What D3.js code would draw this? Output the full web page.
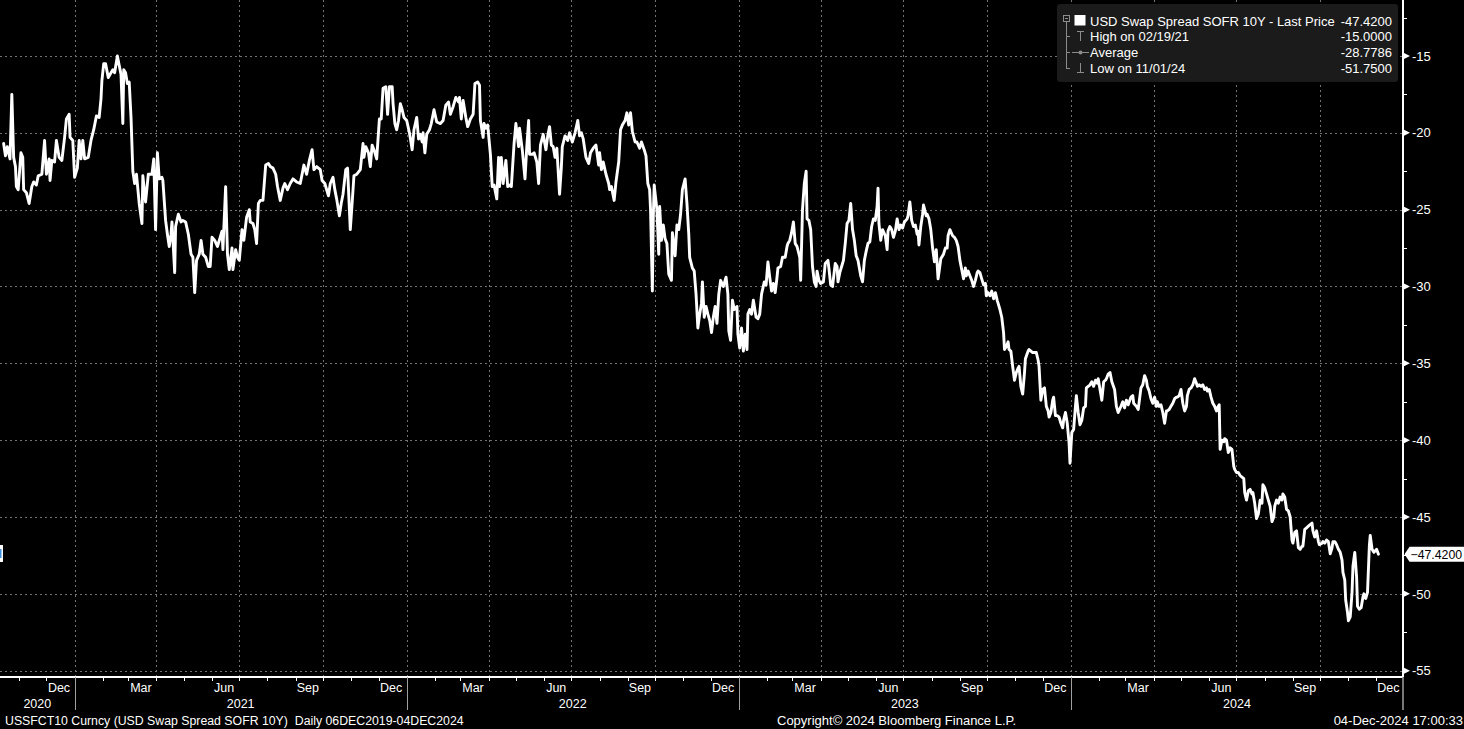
<!DOCTYPE html>
<html><head><meta charset="utf-8">
<script src="https://cdn.jsdelivr.net/npm/d3@7"></script>
<style>html,body{margin:0;padding:0;background:#000;overflow:hidden}svg{display:block}</style>
</head><body>
<svg id="chart" width="1464" height="729"></svg>
<script>
// ---------- DATA ----------
const obs2020 = [["2020-10-15",-20.7],["2020-10-17",-21.5],["2020-10-19",-20.9],["2020-10-22",-21.7],["2020-10-24",-17.5],["2020-10-26",-21.6],["2020-10-28",-22.2],["2020-10-29",-23.5],["2020-10-31",-23.7],["2020-11-03",-21.3],["2020-11-05",-21.6],["2020-11-06",-23.7],["2020-11-09",-23.9],["2020-11-12",-24.6],["2020-11-15",-23.5],["2020-11-17",-23.2],["2020-11-20",-23.4],["2020-11-22",-22.8],["2020-11-26",-22.7],["2020-11-29",-20.5],["2020-12-01",-22.7],["2020-12-04",-21.7],["2020-12-05",-23.1],["2020-12-07",-21.8],["2020-12-10",-21.9],["2020-12-12",-20.5],["2020-12-15",-21.6],["2020-12-18",-21.8],["2020-12-21",-20.3],["2020-12-23",-19.1],["2020-12-26",-18.8],["2020-12-27",-20.3],["2020-12-30",-20.5]];
const obs2021 = [["2021-01-01",-22.9],["2021-01-04",-22.3],["2021-01-06",-20.5],["2021-01-08",-21.7],["2021-01-10",-20.5],["2021-01-12",-21.7],["2021-01-16",-21.6],["2021-01-19",-20.5],["2021-01-22",-19.8],["2021-01-25",-18.9],["2021-01-28",-19.0],["2021-01-30",-17.8],["2021-01-31",-16.6],["2021-02-02",-15.5],["2021-02-04",-15.5],["2021-02-07",-16.4],["2021-02-10",-16.1],["2021-02-12",-15.9],["2021-02-14",-16.1],["2021-02-17",-15.0],["2021-02-19",-15.6],["2021-02-21",-16.2],["2021-02-23",-19.4],["2021-02-24",-15.9],["2021-02-26",-16.1],["2021-02-28",-16.8],["2021-03-02",-16.7],["2021-03-04",-19.0],["2021-03-06",-22.5],["2021-03-08",-23.3],["2021-03-10",-22.7],["2021-03-13",-24.6],["2021-03-16",-25.9],["2021-03-17",-22.8],["2021-03-20",-24.5],["2021-03-23",-22.7],["2021-03-27",-22.7],["2021-03-29",-21.7],["2021-03-31",-26.3],["2021-04-02",-21.3],["2021-04-04",-23.0],["2021-04-07",-22.9],["2021-04-08",-23.1],["2021-04-11",-25.7],["2021-04-13",-26.6],["2021-04-15",-27.4],["2021-04-17",-26.6],["2021-04-18",-25.8],["2021-04-21",-29.1],["2021-04-22",-26.1],["2021-04-25",-25.3],["2021-04-28",-25.8],["2021-04-30",-25.7],["2021-05-03",-25.8],["2021-05-06",-26.6],["2021-05-09",-27.9],["2021-05-11",-28.1],["2021-05-13",-30.4],["2021-05-15",-28.3],["2021-05-18",-27.9],["2021-05-20",-27.0],["2021-05-22",-27.9],["2021-05-25",-28.1],["2021-05-28",-28.7],["2021-05-30",-28.7],["2021-06-01",-26.8],["2021-06-04",-27.0],["2021-06-07",-27.4],["2021-06-10",-26.8],["2021-06-12",-26.4],["2021-06-13",-27.6],["2021-06-16",-23.5],["2021-06-18",-27.9],["2021-06-20",-28.9],["2021-06-23",-27.5],["2021-06-24",-28.9],["2021-06-27",-27.6],["2021-06-29",-28.1],["2021-07-01",-28.3],["2021-07-04",-26.3],["2021-07-06",-27.0],["2021-07-09",-25.5],["2021-07-12",-25.0],["2021-07-13",-25.8],["2021-07-16",-25.9],["2021-07-18",-26.3],["2021-07-20",-27.2],["2021-07-22",-24.6],["2021-07-24",-24.4],["2021-07-27",-24.4],["2021-07-30",-22.1],["2021-08-02",-22.0],["2021-08-04",-22.2],["2021-08-07",-22.3],["2021-08-10",-22.7],["2021-08-12",-23.5],["2021-08-15",-24.4],["2021-08-18",-23.6],["2021-08-20",-23.3],["2021-08-23",-23.7],["2021-08-26",-23.3],["2021-08-29",-23.0],["2021-09-02",-23.2],["2021-09-06",-23.3],["2021-09-09",-22.4],["2021-09-10",-22.1],["2021-09-13",-22.7],["2021-09-16",-21.8],["2021-09-19",-21.1],["2021-09-21",-22.4],["2021-09-24",-22.2],["2021-09-28",-22.4],["2021-09-30",-23.1],["2021-10-03",-23.3],["2021-10-07",-24.1],["2021-10-09",-23.3],["2021-10-12",-22.9],["2021-10-14",-23.7],["2021-10-16",-24.3],["2021-10-19",-25.4],["2021-10-21",-24.6],["2021-10-23",-24.0],["2021-10-26",-22.4],["2021-10-28",-22.3],["2021-10-31",-26.3],["2021-11-02",-24.6],["2021-11-04",-22.8],["2021-11-07",-22.7],["2021-11-11",-22.4],["2021-11-14",-20.7],["2021-11-15",-21.6],["2021-11-17",-20.9],["2021-11-20",-21.3],["2021-11-22",-22.2],["2021-11-24",-20.8],["2021-11-26",-21.1],["2021-11-29",-21.7],["2021-12-02",-19.1],["2021-12-04",-19.1],["2021-12-06",-17.1],["2021-12-09",-17.0],["2021-12-11",-18.8],["2021-12-13",-17.0],["2021-12-16",-17.0],["2021-12-17",-18.1],["2021-12-19",-19.4],["2021-12-21",-19.8],["2021-12-23",-19.2],["2021-12-25",-18.1],["2021-12-27",-18.5],["2021-12-29",-19.0]];
const obs2022 = [["2022-01-01",-19.2],["2022-01-04",-20.0],["2022-01-07",-21.1],["2022-01-09",-19.8],["2022-01-12",-19.0],["2022-01-14",-20.4],["2022-01-16",-20.1],["2022-01-18",-20.6],["2022-01-19",-20.0],["2022-01-21",-21.3],["2022-01-23",-20.1],["2022-01-26",-19.8],["2022-01-28",-19.4],["2022-01-31",-18.5],["2022-02-03",-19.3],["2022-02-07",-19.4],["2022-02-10",-19.2],["2022-02-13",-18.2],["2022-02-16",-18.0],["2022-02-18",-18.8],["2022-02-21",-18.3],["2022-02-24",-17.7],["2022-02-27",-18.0],["2022-02-28",-17.7],["2022-03-02",-19.1],["2022-03-04",-17.9],["2022-03-07",-19.0],["2022-03-09",-19.6],["2022-03-12",-19.1],["2022-03-15",-18.8],["2022-03-17",-16.8],["2022-03-20",-16.7],["2022-03-22",-16.9],["2022-03-23",-19.2],["2022-03-26",-20.3],["2022-03-27",-19.4],["2022-03-29",-19.7],["2022-03-31",-19.5],["2022-04-03",-21.4],["2022-04-05",-23.5],["2022-04-07",-23.4],["2022-04-10",-24.3],["2022-04-12",-21.6],["2022-04-13",-23.5],["2022-04-15",-21.6],["2022-04-17",-23.3],["2022-04-20",-21.8],["2022-04-22",-23.5],["2022-04-24",-23.4],["2022-04-26",-23.5],["2022-04-29",-20.7],["2022-05-01",-19.4],["2022-05-04",-20.9],["2022-05-05",-19.7],["2022-05-08",-21.1],["2022-05-11",-23.0],["2022-05-13",-20.9],["2022-05-15",-19.2],["2022-05-16",-21.4],["2022-05-19",-21.4],["2022-05-21",-21.3],["2022-05-24",-21.9],["2022-05-26",-23.3],["2022-05-28",-20.8],["2022-05-31",-20.1],["2022-06-03",-21.1],["2022-06-05",-20.2],["2022-06-07",-19.6],["2022-06-09",-20.8],["2022-06-11",-20.9],["2022-06-13",-21.6],["2022-06-15",-21.0],["2022-06-18",-24.0],["2022-06-20",-22.2],["2022-06-21",-20.9],["2022-06-24",-20.2],["2022-06-27",-20.5],["2022-06-29",-20.0],["2022-07-02",-20.6],["2022-07-05",-20.0],["2022-07-08",-19.2],["2022-07-10",-20.2],["2022-07-12",-20.0],["2022-07-14",-20.4],["2022-07-17",-21.6],["2022-07-20",-22.0],["2022-07-22",-21.3],["2022-07-25",-21.0],["2022-07-28",-20.8],["2022-07-31",-22.1],["2022-08-01",-21.3],["2022-08-03",-22.4],["2022-08-05",-21.9],["2022-08-08",-22.7],["2022-08-11",-23.3],["2022-08-12",-23.7],["2022-08-14",-23.5],["2022-08-17",-24.4],["2022-08-19",-23.2],["2022-08-22",-21.9],["2022-08-24",-19.8],["2022-08-26",-19.5],["2022-08-29",-19.2],["2022-08-31",-18.7],["2022-09-02",-19.5],["2022-09-04",-18.7],["2022-09-06",-19.9],["2022-09-09",-20.6],["2022-09-11",-20.6],["2022-09-14",-21.0],["2022-09-16",-20.6],["2022-09-19",-21.1],["2022-09-21",-21.5],["2022-09-23",-23.3],["2022-09-25",-23.7],["2022-09-26",-25.0],["2022-09-28",-30.3],["2022-09-29",-25.5],["2022-09-30",-23.4],["2022-10-03",-25.0],["2022-10-05",-27.9],["2022-10-06",-24.8],["2022-10-08",-27.0],["2022-10-10",-26.0],["2022-10-12",-26.9],["2022-10-14",-27.2],["2022-10-16",-29.2],["2022-10-19",-29.6],["2022-10-20",-26.5],["2022-10-23",-28.0],["2022-10-25",-26.0],["2022-10-27",-26.3],["2022-10-29",-25.3],["2022-10-31",-23.7],["2022-11-03",-23.0],["2022-11-05",-24.6],["2022-11-07",-26.6],["2022-11-08",-28.1],["2022-11-11",-28.8],["2022-11-13",-29.0],["2022-11-15",-30.5],["2022-11-17",-32.7],["2022-11-19",-31.8],["2022-11-21",-31.1],["2022-11-22",-29.7],["2022-11-24",-32.0],["2022-11-26",-31.3],["2022-11-28",-31.8],["2022-11-30",-32.2],["2022-12-02",-33.0],["2022-12-04",-32.0],["2022-12-06",-31.3],["2022-12-08",-32.4],["2022-12-10",-30.5],["2022-12-12",-29.6],["2022-12-15",-30.0],["2022-12-18",-29.4],["2022-12-20",-30.5],["2022-12-21",-32.9],["2022-12-23",-33.5],["2022-12-25",-30.9],["2022-12-27",-31.5],["2022-12-30",-31.3],["2022-12-31",-33.1]];
const obs2023 = [["2023-01-02",-34.0],["2023-01-04",-32.7],["2023-01-06",-34.2],["2023-01-08",-33.1],["2023-01-10",-34.1],["2023-01-11",-31.8],["2023-01-13",-31.5],["2023-01-15",-31.8],["2023-01-17",-30.9],["2023-01-20",-32.0],["2023-01-22",-32.1],["2023-01-24",-31.8],["2023-01-26",-30.5],["2023-01-29",-29.7],["2023-01-31",-29.9],["2023-02-02",-28.4],["2023-02-04",-29.4],["2023-02-06",-30.3],["2023-02-08",-29.8],["2023-02-10",-30.4],["2023-02-12",-29.4],["2023-02-13",-28.8],["2023-02-16",-28.7],["2023-02-18",-28.1],["2023-02-21",-28.1],["2023-02-23",-27.4],["2023-02-24",-27.2],["2023-02-26",-27.0],["2023-02-28",-26.5],["2023-03-02",-25.8],["2023-03-04",-27.2],["2023-03-06",-27.4],["2023-03-09",-28.1],["2023-03-10",-29.6],["2023-03-12",-25.0],["2023-03-14",-23.3],["2023-03-16",-22.5],["2023-03-17",-25.6],["2023-03-19",-25.7],["2023-03-21",-26.3],["2023-03-23",-28.7],["2023-03-25",-29.7],["2023-03-27",-30.0],["2023-03-28",-29.0],["2023-03-30",-29.6],["2023-04-01",-29.8],["2023-04-04",-29.7],["2023-04-06",-28.5],["2023-04-09",-28.3],["2023-04-10",-28.8],["2023-04-12",-29.9],["2023-04-14",-30.0],["2023-04-17",-28.5],["2023-04-19",-28.7],["2023-04-20",-29.7],["2023-04-22",-29.1],["2023-04-24",-28.7],["2023-04-26",-28.3],["2023-04-28",-27.2],["2023-04-30",-25.9],["2023-05-02",-25.7],["2023-05-04",-24.6],["2023-05-06",-26.3],["2023-05-08",-27.0],["2023-05-10",-28.0],["2023-05-12",-28.3],["2023-05-15",-29.3],["2023-05-17",-29.7],["2023-05-19",-28.3],["2023-05-21",-27.7],["2023-05-23",-27.2],["2023-05-25",-27.1],["2023-05-27",-26.1],["2023-05-29",-25.6],["2023-05-31",-25.7],["2023-06-02",-24.8],["2023-06-03",-23.6],["2023-06-04",-25.9],["2023-06-06",-27.0],["2023-06-08",-26.3],["2023-06-11",-26.7],["2023-06-13",-27.6],["2023-06-14",-26.4],["2023-06-16",-26.1],["2023-06-18",-26.3],["2023-06-20",-26.8],["2023-06-22",-26.4],["2023-06-24",-25.6],["2023-06-26",-26.3],["2023-06-28",-26.0],["2023-06-30",-26.2],["2023-07-02",-25.8],["2023-07-05",-25.6],["2023-07-06",-25.4],["2023-07-08",-24.5],["2023-07-10",-25.7],["2023-07-12",-26.1],["2023-07-14",-26.0],["2023-07-16",-26.6],["2023-07-17",-26.4],["2023-07-18",-27.3],["2023-07-20",-26.1],["2023-07-22",-25.3],["2023-07-23",-24.7],["2023-07-26",-25.4],["2023-07-27",-25.3],["2023-07-29",-25.6],["2023-07-31",-26.3],["2023-08-02",-27.5],["2023-08-04",-28.4],["2023-08-06",-27.6],["2023-08-08",-29.5],["2023-08-09",-29.1],["2023-08-11",-28.2],["2023-08-14",-27.9],["2023-08-16",-27.5],["2023-08-18",-27.5],["2023-08-19",-26.7],["2023-08-21",-26.3],["2023-08-24",-26.7],["2023-08-26",-26.8],["2023-08-28",-27.0],["2023-08-30",-27.4],["2023-09-01",-28.3],["2023-09-03",-28.9],["2023-09-05",-29.5],["2023-09-07",-28.8],["2023-09-08",-29.3],["2023-09-10",-29.0],["2023-09-12",-29.3],["2023-09-14",-29.6],["2023-09-16",-30.0],["2023-09-18",-29.6],["2023-09-20",-29.1],["2023-09-21",-29.0],["2023-09-23",-29.1],["2023-09-25",-29.5],["2023-09-27",-29.9],["2023-09-29",-29.8],["2023-09-30",-30.6],["2023-10-02",-30.4],["2023-10-04",-30.6],["2023-10-06",-30.3],["2023-10-08",-30.8],["2023-10-10",-30.4],["2023-10-12",-30.9],["2023-10-13",-31.1],["2023-10-15",-31.5],["2023-10-17",-32.0],["2023-10-19",-33.0],["2023-10-20",-34.1],["2023-10-22",-33.9],["2023-10-24",-33.6],["2023-10-25",-34.1],["2023-10-27",-34.2],["2023-10-29",-35.2],["2023-10-31",-36.1],["2023-11-02",-35.6],["2023-11-04",-35.3],["2023-11-05",-35.2],["2023-11-07",-36.5],["2023-11-09",-37.0],["2023-11-11",-35.6],["2023-11-12",-34.7],["2023-11-15",-34.2],["2023-11-16",-34.1],["2023-11-18",-34.2],["2023-11-20",-34.3],["2023-11-22",-34.3],["2023-11-24",-34.3],["2023-11-26",-34.8],["2023-11-27",-35.2],["2023-11-29",-37.4],["2023-12-01",-36.7],["2023-12-03",-36.6],["2023-12-05",-37.8],["2023-12-07",-38.1],["2023-12-08",-38.5],["2023-12-10",-38.2],["2023-12-12",-37.4],["2023-12-13",-37.2],["2023-12-15",-38.4],["2023-12-17",-38.4],["2023-12-19",-38.5],["2023-12-21",-38.9],["2023-12-23",-39.2],["2023-12-24",-38.7],["2023-12-26",-38.2],["2023-12-28",-38.9],["2023-12-30",-40.2],["2023-12-31",-41.5]];
const obs2024 = [["2024-01-02",-39.5],["2024-01-04",-39.3],["2024-01-06",-37.8],["2024-01-07",-37.1],["2024-01-09",-38.2],["2024-01-11",-39.0],["2024-01-13",-38.7],["2024-01-15",-37.9],["2024-01-17",-37.8],["2024-01-18",-36.6],["2024-01-20",-36.5],["2024-01-22",-36.4],["2024-01-24",-36.2],["2024-01-26",-36.5],["2024-01-28",-36.1],["2024-01-30",-36.3],["2024-01-31",-36.0],["2024-02-02",-36.7],["2024-02-04",-37.4],["2024-02-06",-36.2],["2024-02-08",-36.1],["2024-02-09",-36.0],["2024-02-11",-35.7],["2024-02-13",-35.6],["2024-02-15",-36.2],["2024-02-18",-36.7],["2024-02-20",-37.8],["2024-02-22",-38.2],["2024-02-25",-37.8],["2024-02-27",-37.5],["2024-02-29",-37.9],["2024-03-02",-37.4],["2024-03-04",-37.7],["2024-03-07",-37.2],["2024-03-09",-37.1],["2024-03-10",-37.6],["2024-03-13",-37.8],["2024-03-15",-38.0],["2024-03-18",-36.6],["2024-03-20",-36.4],["2024-03-22",-35.8],["2024-03-24",-36.1],["2024-03-25",-36.5],["2024-03-27",-36.8],["2024-03-29",-37.3],["2024-03-31",-37.6],["2024-04-02",-37.2],["2024-04-04",-37.8],["2024-04-05",-37.5],["2024-04-07",-37.8],["2024-04-09",-37.7],["2024-04-11",-38.2],["2024-04-13",-38.9],["2024-04-15",-38.1],["2024-04-16",-38.1],["2024-04-18",-38.0],["2024-04-20",-37.8],["2024-04-22",-37.6],["2024-04-24",-37.3],["2024-04-26",-37.2],["2024-04-27",-37.2],["2024-04-29",-37.1],["2024-05-01",-36.7],["2024-05-03",-37.6],["2024-05-05",-38.1],["2024-05-07",-37.8],["2024-05-08",-37.1],["2024-05-10",-36.7],["2024-05-12",-36.6],["2024-05-14",-36.4],["2024-05-16",-36.0],["2024-05-18",-36.3],["2024-05-19",-36.5],["2024-05-21",-36.4],["2024-05-23",-36.5],["2024-05-25",-36.4],["2024-05-27",-36.7],["2024-05-29",-36.6],["2024-05-30",-36.8],["2024-06-01",-36.7],["2024-06-03",-37.2],["2024-06-05",-37.6],["2024-06-07",-37.8],["2024-06-09",-38.1],["2024-06-10",-37.9],["2024-06-12",-37.7],["2024-06-13",-40.6],["2024-06-15",-40.0],["2024-06-17",-40.1],["2024-06-18",-39.9],["2024-06-20",-40.0],["2024-06-22",-40.8],["2024-06-24",-40.5],["2024-06-26",-40.6],["2024-06-28",-41.7],["2024-06-29",-41.9],["2024-07-01",-42.1],["2024-07-03",-42.1],["2024-07-05",-42.3],["2024-07-07",-42.4],["2024-07-09",-42.5],["2024-07-10",-43.4],["2024-07-12",-43.9],["2024-07-14",-43.3],["2024-07-16",-43.2],["2024-07-18",-43.5],["2024-07-19",-43.4],["2024-07-21",-44.1],["2024-07-23",-45.1],["2024-07-25",-44.8],["2024-07-27",-43.9],["2024-07-29",-44.1],["2024-07-30",-42.9],["2024-08-01",-43.1],["2024-08-03",-43.5],["2024-08-05",-43.9],["2024-08-07",-44.3],["2024-08-09",-45.3],["2024-08-11",-45.0],["2024-08-12",-44.3],["2024-08-14",-43.9],["2024-08-16",-44.1],["2024-08-18",-43.7],["2024-08-20",-43.9],["2024-08-21",-43.5],["2024-08-23",-43.7],["2024-08-25",-44.5],["2024-08-27",-44.6],["2024-08-29",-45.0],["2024-08-31",-46.5],["2024-09-01",-46.7],["2024-09-03",-46.0],["2024-09-05",-45.9],["2024-09-07",-47.0],["2024-09-09",-47.1],["2024-09-11",-46.9],["2024-09-12",-46.9],["2024-09-14",-45.8],["2024-09-16",-45.7],["2024-09-18",-45.6],["2024-09-20",-45.5],["2024-09-22",-45.4],["2024-09-23",-45.9],["2024-09-25",-46.3],["2024-09-27",-45.9],["2024-09-29",-46.6],["2024-09-30",-46.8],["2024-10-03",-46.7],["2024-10-04",-46.6],["2024-10-06",-46.7],["2024-10-08",-46.5],["2024-10-10",-46.6],["2024-10-12",-47.4],["2024-10-14",-47.0],["2024-10-15",-46.6],["2024-10-17",-46.6],["2024-10-19",-46.8],["2024-10-21",-47.1],["2024-10-23",-47.3],["2024-10-25",-47.8],["2024-10-26",-48.6],["2024-10-28",-49.1],["2024-10-29",-50.4],["2024-10-31",-51.2],["2024-11-01",-51.75],["2024-11-03",-51.5],["2024-11-05",-49.9],["2024-11-06",-48.2],["2024-11-08",-47.3],["2024-11-10",-48.9],["2024-11-11",-50.8],["2024-11-13",-51.0],["2024-11-15",-50.9],["2024-11-17",-50.2],["2024-11-18",-50.0],["2024-11-20",-50.3],["2024-11-22",-49.9],["2024-11-24",-46.9],["2024-11-25",-46.2],["2024-11-27",-47.1],["2024-11-29",-47.3],["2024-12-02",-47.1],["2024-12-04",-47.42]];

const yTickValues = [-15, -20, -25, -30, -35, -40, -45, -50, -55];
const yMinorTickValues = [-12.5, -17.5, -22.5, -27.5, -32.5, -37.5, -42.5, -47.5, -52.5];
const monthLabelNames = {11: "Dec", 2: "Mar", 5: "Jun", 8: "Sep"};
const legendLabels = ["USD Swap Spread SOFR 10Y - Last Price", "High on 02/19/21", "Average", "Low on 11/01/24"];
const legendValues = ["-47.4200", "-15.0000", "-28.7786", "-51.7500"];
const footerLeft = "USSFCT10 Curncy (USD Swap Spread SOFR 10Y)  Daily 06DEC2019-04DEC2024";
const footerCenter = "Copyright\u00A9 2024 Bloomberg Finance L.P.";
const footerRight = "04-Dec-2024 17:00:33";

// ---------- SETUP ----------
const W = 1464, H = 729;
const plotRight = 1403, plotBottom = 677;
const FONT = "'Liberation Sans', Arial, sans-serif";
const GRID = "#727272";
const parse = d3.timeParse("%Y-%m-%d");
const data = [...obs2020, ...obs2021, ...obs2022, ...obs2023, ...obs2024].map(([d, v]) => ({date: parse(d), value: v}));

const domainStart = parse("2020-10-11"), domainEnd = parse("2024-12-31");
const x = d3.scaleTime().domain([domainStart, domainEnd]).range([0, plotRight]);
const y = d3.scaleLinear().domain([-55.41, -11.36]).range([plotBottom, 0]);

const svg = d3.select("#chart");
svg.append("rect").attr("width", W).attr("height", H).attr("fill", "#000");

// grid
const gGrid = svg.append("g").attr("shape-rendering", "crispEdges");
gGrid.selectAll("line.h").data(yTickValues).join("line")
  .attr("x1", 0).attr("x2", plotRight)
  .attr("y1", d => Math.round(y(d)) + 0.5).attr("y2", d => Math.round(y(d)) + 0.5)
  .attr("stroke", GRID).attr("stroke-dasharray", "2,3");
const quarterStarts = d3.timeMonth.every(3).range(domainStart, domainEnd);
gGrid.selectAll("line.v").data(quarterStarts).join("line")
  .attr("x1", d => Math.round(x(d)) + 0.5).attr("x2", d => Math.round(x(d)) + 0.5)
  .attr("y1", 0).attr("y2", plotBottom)
  .attr("stroke", GRID).attr("stroke-dasharray", "2,3");

// series line
svg.append("path").datum(data)
  .attr("fill", "none").attr("stroke", "#fff").attr("stroke-width", 2.9)
  .attr("stroke-linejoin", "round").attr("stroke-linecap", "round")
  .attr("d", d3.line().x(d => x(d.date)).y(d => y(d.value)));

// bottom axis
const gX = svg.append("g");
gX.append("line").attr("x1", 0).attr("x2", plotRight).attr("y1", plotBottom).attr("y2", plotBottom)
  .attr("stroke", "#fff").attr("stroke-width", 2);
const months = d3.timeMonth.range(d3.timeMonth.ceil(domainStart), domainEnd);
gX.selectAll("line.mt").data(months).join("line")
  .attr("x1", d => Math.round(x(d)) + 0.5).attr("x2", d => Math.round(x(d)) + 0.5)
  .attr("y1", plotBottom).attr("y2", plotBottom + 4).attr("stroke", "#fff").attr("shape-rendering", "crispEdges");
const labelMonths = d3.timeMonth.range(d3.timeMonth.floor(domainStart), domainEnd).filter(d => d.getMonth() in monthLabelNames);
gX.selectAll("text.m").data(labelMonths).join("text")
  .attr("x", d => (x(d) + x(d3.timeMonth.offset(d, 1))) / 2 - 1.5).attr("y", 691.5)
  .attr("text-anchor", "middle").attr("fill", "#fff").attr("font-family", FONT).attr("font-size", 12.5)
  .text(d => monthLabelNames[d.getMonth()]);
const years = d3.timeYear.range(d3.timeYear.floor(domainStart), domainEnd);
const yearSeps = d3.timeYear.range(d3.timeYear.ceil(domainStart), domainEnd);
gX.selectAll("line.ys").data(yearSeps).join("line")
  .attr("x1", d => Math.round(x(d)) + 0.5).attr("x2", d => Math.round(x(d)) + 0.5)
  .attr("y1", plotBottom).attr("y2", 710).attr("stroke", "#a0a0a0").attr("shape-rendering", "crispEdges");
gX.append("line").attr("x1", plotRight).attr("x2", plotRight).attr("y1", plotBottom).attr("y2", 710)
  .attr("stroke", "#a0a0a0").attr("stroke-width", 1.5);
gX.selectAll("text.y").data(years).join("text")
  .attr("x", d => {
    const a = Math.max(x(d), 0), b = Math.min(x(d3.timeYear.offset(d, 1)), plotRight);
    return (a + b) / 2;
  })
  .attr("y", 707.5).attr("text-anchor", "middle").attr("fill", "#fff")
  .attr("font-family", FONT).attr("font-size", 12.5).text(d => d.getFullYear());

// right axis
const gY = svg.append("g");
gY.append("line").attr("x1", plotRight).attr("x2", plotRight).attr("y1", 0).attr("y2", plotBottom)
  .attr("stroke", "#fff").attr("stroke-width", 2);
gY.selectAll("line.minor").data(yMinorTickValues).join("line")
  .attr("x1", plotRight).attr("x2", plotRight + 4)
  .attr("y1", d => Math.round(y(d)) + 0.5).attr("y2", d => Math.round(y(d)) + 0.5)
  .attr("stroke", "#fff").attr("shape-rendering", "crispEdges");
gY.selectAll("path.tri").data(yTickValues).join("path")
  .attr("d", d => { const yy = y(d); return `M${plotRight},${yy - 3.5}L${plotRight + 7},${yy}L${plotRight},${yy + 3.5}Z`; })
  .attr("fill", "#fff");
gY.selectAll("text.yl").data(yTickValues).join("text")
  .attr("x", plotRight + 9).attr("y", d => y(d)).attr("dy", "0.36em")
  .attr("fill", "#fff").attr("font-family", FONT).attr("font-size", 13)
  .text(d => d);

// last price tag
const last = data[data.length - 1];
const ly = y(last.value);
svg.append("path")
  .attr("d", `M${plotRight + 1.5},${ly}L${plotRight + 6.5},${ly - 7.5}L${W},${ly - 7.5}L${W},${ly + 7.5}L${plotRight + 6.5},${ly + 7.5}Z`)
  .attr("fill", "#fff");
svg.append("text").attr("x", plotRight + 7.5).attr("y", ly).attr("dy", "0.36em")
  .attr("fill", "#000").attr("font-family", FONT).attr("font-size", 12.3)
  .text(d3.format(".4f")(last.value));

// left marker
svg.append("rect").attr("x", 0).attr("y", 545).attr("width", 3).attr("height", 17).attr("fill", "#fff");
svg.append("rect").attr("x", 0).attr("y", 549).attr("width", 1.5).attr("height", 9).attr("fill", "#3d8fe0");

// legend
const gL = svg.append("g");
gL.append("rect").attr("x", 1057).attr("y", 4).attr("width", 341).attr("height", 78).attr("rx", 3)
  .attr("fill", "#1b1b1b");
const rowY = i => 25.5 + i * 15.7;
gL.selectAll("text.lab").data(legendLabels).join("text")
  .attr("x", 1090).attr("y", (d, i) => rowY(i)).attr("fill", "#fff")
  .attr("font-family", FONT).attr("font-size", 13).text(d => d);
gL.selectAll("text.val").data(legendValues).join("text")
  .attr("x", 1392).attr("y", (d, i) => rowY(i)).attr("text-anchor", "end").attr("fill", "#fff")
  .attr("font-family", FONT).attr("font-size", 13).text(d => d);
const ic = "#8c8c8c";
const gI = gL.append("g").attr("stroke", ic).attr("fill", "none").attr("shape-rendering", "crispEdges");
gI.append("rect").attr("x", 1063.5).attr("y", 15.5).attr("width", 6).attr("height", 6);
gI.append("line").attr("x1", 1065).attr("x2", 1068).attr("y1", 18.5).attr("y2", 18.5);
gI.append("line").attr("x1", 1066.5).attr("x2", 1066.5).attr("y1", 22).attr("y2", 68.5);
[36.5, 52.5, 68.5].forEach(yy => gI.append("line").attr("x1", 1066.5).attr("x2", 1070).attr("y1", yy).attr("y2", yy));
gL.append("rect").attr("x", 1074.5).attr("y", 15).attr("width", 11).attr("height", 10.5).attr("fill", "#fff");
gI.append("line").attr("x1", 1077).attr("x2", 1084).attr("y1", 31.5).attr("y2", 31.5);
gI.append("line").attr("x1", 1080.5).attr("x2", 1080.5).attr("y1", 31.5).attr("y2", 40.5);
gI.append("line").attr("x1", 1072).attr("x2", 1089).attr("y1", 52.5).attr("y2", 52.5);
gL.append("circle").attr("cx", 1080.5).attr("cy", 52.5).attr("r", 2).attr("fill", ic);
gI.append("line").attr("x1", 1080.5).attr("x2", 1080.5).attr("y1", 63).attr("y2", 72.5);
gI.append("line").attr("x1", 1077).attr("x2", 1084).attr("y1", 72.5).attr("y2", 72.5);

// footer
const fy = 725;
svg.append("text").attr("x", 5).attr("y", fy).attr("fill", "#fff").attr("font-family", FONT).attr("font-size", 12.3)
  .attr("xml:space", "preserve").style("white-space", "pre").text(footerLeft);
svg.append("text").attr("x", 777).attr("y", fy).attr("fill", "#fff").attr("font-family", FONT).attr("font-size", 13)
  .text(footerCenter);
svg.append("text").attr("x", 1463).attr("y", fy).attr("text-anchor", "end").attr("fill", "#fff").attr("font-family", FONT).attr("font-size", 13)
  .text(footerRight);
</script>
</body></html>
